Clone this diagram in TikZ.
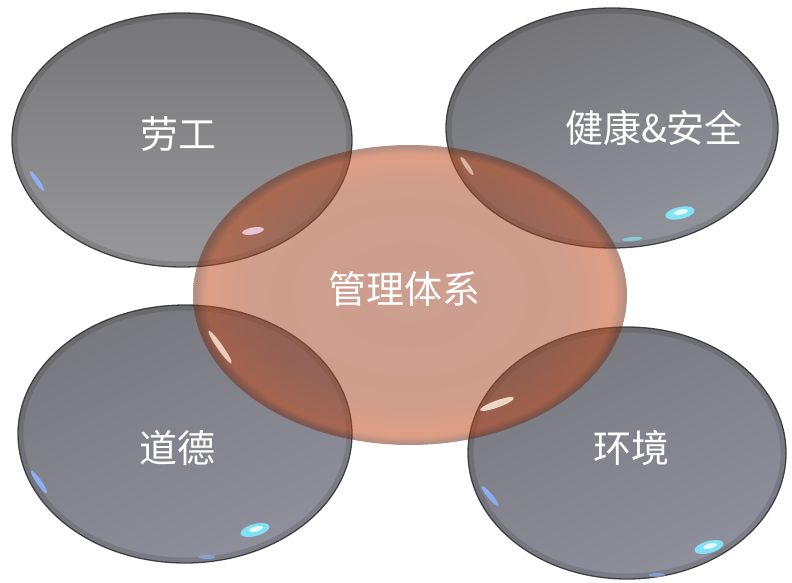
\documentclass[tikz,border=0pt]{standalone}
\usepackage{fontspec}
\newfontfamily\cjk{Noto Sans CJK SC}
\definecolor{gTop}{RGB}{118,118,121}
\definecolor{gBot}{RGB}{152,152,154}
\definecolor{hTop}{RGB}{116,116,120}
\definecolor{hBot}{RGB}{146,148,156}
\definecolor{bTop}{RGB}{120,120,126}
\definecolor{bBot}{RGB}{144,144,158}
\definecolor{oA}{RGB}{160,74,46}
\definecolor{oB}{RGB}{165,72,40}
\definecolor{oC}{RGB}{195,72,25}
\definecolor{oD}{RGB}{115,45,20}
\definecolor{rimcol}{RGB}{45,45,45}
\definecolor{hlcyan}{RGB}{130,235,255}
\definecolor{hlblue}{RGB}{140,180,255}
\definecolor{hlpink}{RGB}{245,205,225}
\definecolor{hlwarm}{RGB}{255,235,215}
\pgfdeclareradialshading{orangebubble}{\pgfpoint{0bp}{0bp}}{color(0bp)=(oA); color(18bp)=(oB); color(23.5bp)=(oC); color(24.7bp)=(oD); color(25bp)=(oD); color(50bp)=(oD)}
\tikzset{
  bubble/.style={top color=gTop, bottom color=gBot},
  hbubble/.style={top color=hTop, bottom color=hBot, shading angle=20},
  bbubble/.style={top color=bTop, bottom color=bBot, shading angle=25},
  rim/.style={draw=rimcol, line width=1.3pt, draw opacity=0.85},
  innerrim/.style={draw=black, line width=5pt, draw opacity=0.12},
  lbl/.style={text=white, font=\cjk\fontsize{38}{44}\selectfont, inner sep=0pt},
  shine/.style={fill=#1, draw=none, fill opacity=0.9}
}
\begin{document}
\begin{tikzpicture}[x=1pt,y=-1pt]
\useasboundingbox (0,0) rectangle (792,583);
\fill[white] (0,0) rectangle (792,583);
% grey bubbles
\shade[bubble] (182,140) ellipse [x radius=170, y radius=127];
\draw[innerrim] (182,140) ellipse [x radius=167, y radius=124];
\draw[rim] (182,140) ellipse [x radius=170, y radius=127];
\shade[hbubble] (612,128) ellipse [x radius=166, y radius=120];
\draw[innerrim] (612,128) ellipse [x radius=163, y radius=117];
\draw[rim] (612,128) ellipse [x radius=166, y radius=120];
\shade[bbubble] (185,434) ellipse [x radius=167, y radius=129];
\draw[innerrim] (185,434) ellipse [x radius=164, y radius=126];
\draw[rim] (185,434) ellipse [x radius=167, y radius=129];
\shade[bbubble] (627,453) ellipse [x radius=159, y radius=126];
\draw[innerrim] (627,453) ellipse [x radius=156, y radius=123];
\draw[rim] (627,453) ellipse [x radius=159, y radius=126];
% central orange bubble
\shade[shading=orangebubble, opacity=0.53] (410,295) ellipse [x radius=217, y radius=150];
% highlights
\fill[shine=hlblue] (37,181) ellipse [x radius=12, y radius=2.2, rotate=-55];
\fill[shine=hlpink] (253,231) ellipse [x radius=11, y radius=3.5, rotate=10];
\fill[shine=hlwarm, fill opacity=0.6] (467,166) ellipse [x radius=11, y radius=2.2, rotate=-55];
\fill[shine=hlcyan] (680,213) ellipse [x radius=15, y radius=6, rotate=12];
\fill[white, opacity=0.8] (681,212) ellipse [x radius=7, y radius=2.5, rotate=12];
\fill[shine=hlcyan, fill opacity=0.6] (632,239) ellipse [x radius=10, y radius=2, rotate=5];
\fill[shine=hlblue] (39,482) ellipse [x radius=14, y radius=2.5, rotate=-55];
\fill[shine=hlcyan] (255,530) ellipse [x radius=15, y radius=6, rotate=15];
\fill[white, opacity=0.8] (256,529) ellipse [x radius=7, y radius=2.5, rotate=15];
\fill[shine=hlblue, fill opacity=0.6] (207,557) ellipse [x radius=8, y radius=2, rotate=0];
\fill[shine=hlwarm, fill opacity=0.8] (220,347) ellipse [x radius=20, y radius=2.8, rotate=-55];
\fill[shine=hlblue] (490,496) ellipse [x radius=13, y radius=2.5, rotate=-50];
\fill[shine=hlcyan] (709,547) ellipse [x radius=15, y radius=6, rotate=15];
\fill[white, opacity=0.8] (710,546) ellipse [x radius=7, y radius=2.5, rotate=15];
\fill[shine=hlblue, fill opacity=0.6] (657,575) ellipse [x radius=8, y radius=2, rotate=0];
\fill[shine=hlwarm, fill opacity=0.85] (497,404) ellipse [x radius=18, y radius=3.5, rotate=20];
% labels
\node[lbl] (lab) at (178,134) {劳工};
\node[lbl] (hs) at (654,128) {健康\&安全};
\node[lbl] (ms) at (404,289) {管理体系};
\node[lbl] (eth) at (177,448) {道德};
\node[lbl] (env) at (631,448) {环境};
\end{tikzpicture}
\end{document}
